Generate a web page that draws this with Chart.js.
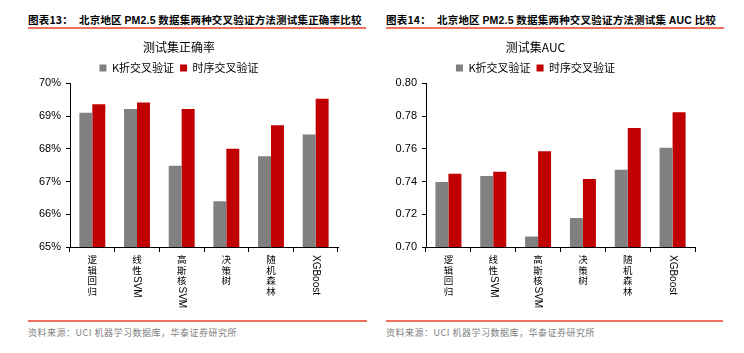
<!DOCTYPE html>
<html>
<head>
<meta charset="utf-8">
<script src="https://cdn.jsdelivr.net/npm/chart.js@4.4.1/dist/chart.umd.min.js"></script>
<style>
    body { margin: 0; width: 744px; height: 353px; background: #fff; position: relative; overflow: hidden; }
    .head { position: absolute; top: 12px; font: bold 10.5px "Noto Sans CJK SC", sans-serif; color: #000; white-space: nowrap; letter-spacing: 0.2px; }
    .head b { font-family: "Liberation Sans", Arial, sans-serif; }
    .rule { position: absolute; height: 2px; background: #F0705E; }
    .foot { position: absolute; top: 326px; font: 9px "Noto Sans CJK SC", sans-serif; color: #808080; letter-spacing: 0.5px; }
    .box { position: absolute; top: 34px; }
</style>
</head>
<body>
<div class="head" style="left:28px">图表13：</div>
<div class="head" style="left:79px">北京地区 <b>PM2.5</b> 数据集两种交叉验证方法测试集正确率比较</div>
<div class="head" style="left:386px">图表14：</div>
<div class="head" style="left:437px">北京地区 <b>PM2.5</b> 数据集两种交叉验证方法测试集 <b>AUC</b> 比较</div>
<div class="rule" style="left:28px; top:27px; width:338px"></div>
<div class="rule" style="left:386px; top:27px; width:338px"></div>

<div class="box" style="left:20px"><canvas id="chartAcc" width="345" height="282"></canvas></div>
<div class="box" style="left:376px"><canvas id="chartAuc" width="346" height="282"></canvas></div>

<div class="rule" style="left:28px; top:320px; width:339px"></div>
<div class="rule" style="left:386px; top:320px; width:337px"></div>
<div class="foot" style="left:28px">资料来源：UCI 机器学习数据库，华泰证券研究所</div>
<div class="foot" style="left:386px">资料来源：UCI 机器学习数据库，华泰证券研究所</div>

<script>
// Categories and values
const categories = ['逻辑回归', '线性SVM', '高斯核SVM', '决策树', '随机森林', 'XGBoost'];
const seriesNames = ['K折交叉验证', '时序交叉验证'];

// accuracy (%)
const accKFold = [69.10, 69.22, 67.48, 66.40, 67.77, 68.44];
const accTimeSeries = [69.36, 69.42, 69.22, 68.00, 68.72, 69.53];

// AUC
const aucKFold = [0.7398, 0.7434, 0.7064, 0.7178, 0.7472, 0.7606];
const aucTimeSeries = [0.7448, 0.7460, 0.7586, 0.7416, 0.7728, 0.7824];

const colors = {
    gray: '#808080',
    red: '#C00000',
    axis: '#000000'
};

const cjkFont = '"Noto Sans CJK SC", sans-serif';
const latinFont = '"Liberation Sans", Arial, sans-serif';

// Category labels: CJK characters stacked upright, latin runs turned clockwise
const verticalLabels = {
    id: 'verticalLabels',
    afterDraw(chart) {
        const xs = chart.scales.x;
        const ctx = chart.ctx;
        ctx.save();
        ctx.fillStyle = '#000';
        chart.data.labels.forEach((label, i) => {
            const x = xs.getPixelForValue(i);
            let y = xs.top + 8;
            const runs = label.match(/[A-Za-z0-9]+|[^A-Za-z0-9]/g);
            runs.forEach(r => {
                if (/^[A-Za-z0-9]+$/.test(r)) {
                    ctx.font = '10px ' + latinFont;
                    const w = ctx.measureText(r).width;
                    ctx.save();
                    ctx.translate(x, y);
                    ctx.rotate(Math.PI / 2);
                    ctx.textAlign = 'left';
                    ctx.textBaseline = 'middle';
                    ctx.fillText(r, 0, 0);
                    ctx.restore();
                    y += w + 1;
                } else {
                    ctx.font = '9.5px ' + cjkFont;
                    ctx.textAlign = 'center';
                    ctx.textBaseline = 'top';
                    ctx.fillText(r, x, y);
                    y += 10.5;
                }
            });
        });
        ctx.restore();
    }
};

function makeChart(id, title, kData, tData, yMin, yMax, step, fmt) {
    const ctx = document.getElementById(id).getContext('2d');
    return new Chart(ctx, {
        type: 'bar',
        data: {
            labels: categories,
            datasets: [
                { label: seriesNames[0], data: kData, backgroundColor: colors.gray },
                { label: seriesNames[1], data: tData, backgroundColor: colors.red }
            ]
        },
        options: {
            responsive: false,
            animation: false,
            layout: { padding: { left: 0, right: 27, top: 0, bottom: 0 } },
            datasets: { bar: { categoryPercentage: 0.58, barPercentage: 1.0 } },
            plugins: {
                title: {
                    display: true,
                    text: title,
                    color: '#000',
                    font: { family: cjkFont, size: 12, weight: 'normal' },
                    padding: { top: 6, bottom: 2 }
                },
                legend: {
                    display: true,
                    position: 'top',
                    labels: {
                        color: '#000',
                        font: { family: cjkFont, size: 11 },
                        boxWidth: 7,
                        boxHeight: 7,
                        padding: 6
                    }
                },
                tooltip: { enabled: false }
            },
            scales: {
                x: {
                    grid: { display: true, drawOnChartArea: false, drawTicks: true, tickLength: 5, color: colors.axis, offset: true },
                    border: { display: true, color: colors.axis, width: 1 },
                    ticks: { display: false },
                    afterFit: s => { s.height = 69; }
                },
                y: {
                    min: yMin,
                    max: yMax,
                    grid: { display: true, drawOnChartArea: false, drawTicks: true, tickLength: 4, color: colors.axis },
                    border: { display: true, color: colors.axis, width: 1 },
                    ticks: {
                        stepSize: step,
                        color: '#000',
                        padding: 5,
                        font: { family: latinFont, size: 11 },
                        callback: fmt
                    },
                    afterFit: s => { s.width = 50; }
                }
            }
        },
        plugins: [verticalLabels]
    });
}

makeChart('chartAcc', '测试集正确率', accKFold, accTimeSeries, 65, 70, 1, v => v.toFixed(0) + '%');
makeChart('chartAuc', '测试集AUC', aucKFold, aucTimeSeries, 0.70, 0.80, 0.02, v => v.toFixed(2));
</script>
</body>
</html>
